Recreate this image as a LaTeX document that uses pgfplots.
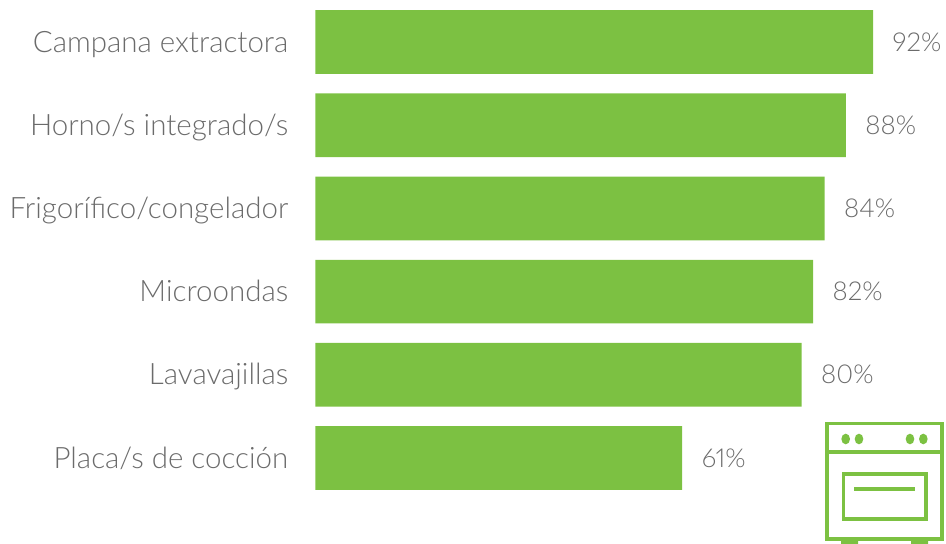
\documentclass[border=0pt]{standalone}
\usepackage{fontspec}
\setmainfont[Numbers=Proportional]{Lato Light}
\usepackage{pgfplots}
\usepackage{pgfplotstable}
\pgfplotsset{compat=1.18}
\definecolor{barg}{HTML}{7CC142}
\definecolor{txt}{HTML}{6B6B6B}
\pgfplotstableread{
idx val
0 92
1 87.5
2 84
3 82.1
4 80.2
5 60.5
}\shares
\begin{document}
\begin{tikzpicture}
\path[use as bounding box] (0pt,0pt) rectangle (946pt,544pt);
\begin{axis}[
  at={(315.5pt,44.4pt)},anchor=south west,
  scale only axis,width=606pt,height=499.2pt,
  xmin=0,xmax=100,ymin=-0.5,ymax=5.5,y dir=reverse,
  axis line style={draw=none},major tick length=0pt,
  xtick=\empty,ytick={0,1,2,3,4,5},
  yticklabels={Campana extractora,Horno/s integrado/s,Frigorífico/congelador,Microondas,Lavavajillas,Placa/s de cocción},
  yticklabel style={anchor=base east,inner sep=0pt,xshift=-27pt,yshift=-10pt,font=\fontsize{29.5}{32}\selectfont,text=txt},
  clip=false,
  xbar,bar width=63.7pt,bar shift=0pt,
  point meta=x,
  nodes near coords={\pgfmathprintnumber[fixed,precision=0,assume math mode=true]{\pgfplotspointmeta}\%},
  every node near coord/.append style={anchor=west,inner sep=0pt,xshift=19.5pt,font=\fontsize{26}{30}\selectfont,text=txt},
]
\addplot[fill=barg,draw=none] table[x=val,y=idx]{\shares};
\end{axis}
% oven icon
\begin{scope}[x=1pt,y=-1pt,shift={(0pt,544pt)},barg]
\draw[line width=3.7pt] (826.8,423.6) rectangle (942.2,538.9);
\draw[line width=4pt] (825,452.3) -- (944,452.3);
\fill (845.7,439) ellipse (4.3pt and 5.3pt) (859,439) ellipse (4.3pt and 5.3pt)
      (910,439) ellipse (4.3pt and 5.3pt) (923.3,439) ellipse (4.3pt and 5.3pt);
\draw[line width=3.3pt] (843.4,474) rectangle (926,519);
\draw[line width=4pt] (854,489) -- (915,489);
\fill (841,540) rectangle (858,544) (911,540) rectangle (928,544);
\end{scope}
\end{tikzpicture}
\end{document}
